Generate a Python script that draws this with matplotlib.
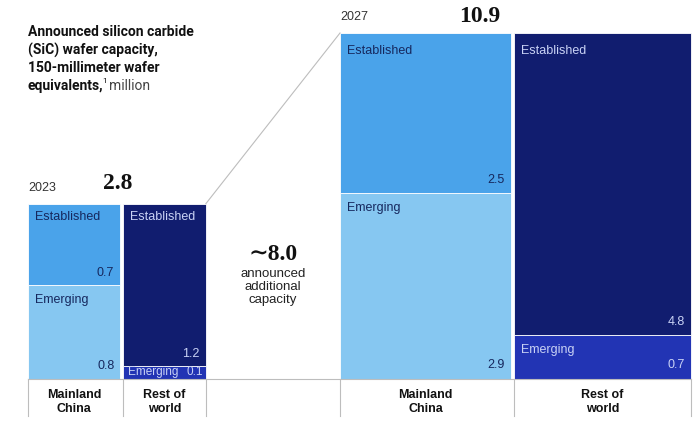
import numpy as np
import matplotlib
matplotlib.use("Agg")
import matplotlib.pyplot as plt

# data
years = ["2023", "2027"]
totals_label = ["2.8", "10.9"]
regions = ["Mainland\nChina", "Rest of\nworld"]
established = [[0.7, 1.2], [2.5, 4.8]]
emerging = [[0.8, 0.1], [2.9, 0.7]]
added_label = "\u223c8.0"

est_colors = ["#4aa3ea", "#111d6f"]
emg_colors = ["#86c7f1", "#2234b4"]
txt_colors = ["#16285e", "#c9d2f5"]

plt.rcParams["font.family"] = ["Liberation Sans", "DejaVu Sans"]
serif = ["Liberation Serif", "DejaVu Serif"]

fig = plt.figure(figsize=(7, 4.22), dpi=100)
ax = fig.add_axes([0, 0, 1, 1])
ax.set_xlim(0, 700)
ax.set_ylim(422, 0)
ax.axis("off")

base = 379
lefts = [28, 340]
total_x = [118, 480]
total_dy = [20, 16]
pad_top = [13, 18]
pad_bot = [12, 13]
# block sides proportional to sqrt of total, so area ~ total
big = sum(established[1]) + sum(emerging[1])
kh = 346 / np.sqrt(big)
kw = 351 / np.sqrt(big)
gap = 3
grey = "#bdbdbd"

tops = []
rights = []
for b in range(2):
    tot = sum(established[b]) + sum(emerging[b])
    side_h = kh * np.sqrt(tot)
    side_w = kw * np.sqrt(tot)
    top = base - side_h
    tops.append(top)
    x = lefts[b]
    ax.plot([x, x], [base, base + 37], color=grey, lw=0.8)
    for r in range(2):
        col = established[b][r] + emerging[b][r]
        w = side_w * col / tot
        h_emg = side_h * emerging[b][r] / col
        h_est = side_h - h_emg
        bw = w - (gap if r == 0 else 0)
        ax.bar(x, h_emg, width=bw, bottom=base - h_emg, align="edge",
               color=emg_colors[r], edgecolor="white", linewidth=0.6)
        ax.bar(x, h_est, width=bw, bottom=top, align="edge",
               color=est_colors[r], edgecolor="white", linewidth=0.6)
        tc = txt_colors[r]
        ax.text(x + 7, top + pad_top[b], "Established", color=tc, fontsize=9, va="center")
        ax.text(x + bw - 6, top + h_est - pad_bot[b], f"{established[b][r]}", color=tc,
                fontsize=9, va="center", ha="right")
        if h_emg > 30:
            ax.text(x + 7, base - h_emg + 15, "Emerging", color=tc, fontsize=9, va="center")
            ax.text(x + bw - 6, base - pad_bot[b] - 1, f"{emerging[b][r]}", color=tc,
                    fontsize=9, va="center", ha="right")
        else:
            ax.text(x + 5, base - h_emg / 2, "Emerging", color=tc, fontsize=8.5, va="center")
            ax.text(x + bw - 3, base - h_emg / 2, f"{emerging[b][r]}", color=tc,
                    fontsize=8.5, va="center", ha="right")
        ax.text(x + w / 2 - (gap / 2 if r == 0 else 0), base + 23, regions[r],
                fontsize=9, fontweight="bold", ha="center", va="center",
                linespacing=1.2, color="#111111")
        x += w
        ax.plot([x, x], [base, base + 37], color=grey, lw=0.8)
    rights.append(x)
    ax.text(lefts[b], top - 16, years[b], fontsize=9, color="#333333", va="center")
    ax.text(total_x[b], top - total_dy[b], totals_label[b], fontsize=17,
            fontweight="bold", family=serif, ha="center", va="center",
            color="#111111")

ax.plot([lefts[0], rights[1]], [base, base], color=grey, lw=0.8)
ax.plot([rights[0], lefts[1]], [tops[0], tops[1]], color=grey, lw=0.8)

mid = (rights[0] + lefts[1]) / 2
ax.text(mid, 255, added_label, fontsize=17, fontweight="bold",
        family=serif, ha="center", va="center", color="#111111")
ax.text(mid, 287, "announced\nadditional\ncapacity", fontsize=9.5,
        ha="center", va="center", linespacing=1.15, color="#222222")

# title
title_font = ["Roboto", "DejaVu Sans"]
ax.text(28, 25, "Announced silicon carbide\n(SiC) wafer capacity,\n150-millimeter wafer",
        fontsize=10, fontweight="bold", family=title_font, va="top",
        linespacing=1.3, color="#111111")
t = ax.text(28, 86, "equivalents,", fontsize=10, fontweight="bold", family=title_font,
            va="center", color="#111111")
fig.canvas.draw()
bb = t.get_window_extent().transformed(ax.transData.inverted())
x1 = max(bb.x0, bb.x1)
ax.text(x1 - 1, 81, "1", fontsize=6, va="center", family=title_font, color="#111111")
ax.text(x1 + 5, 86, "million", fontsize=10, va="center", family=title_font, color="#444444")

fig.savefig("out.png", dpi=100)
